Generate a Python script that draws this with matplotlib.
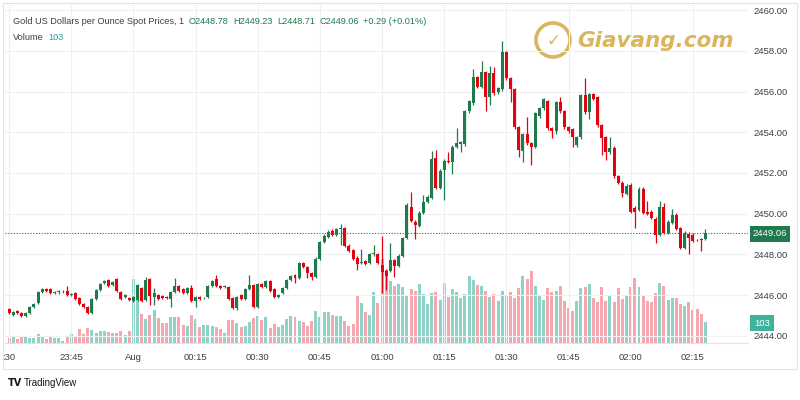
import matplotlib
matplotlib.use("Agg")
import matplotlib.pyplot as plt
from matplotlib.patches import Rectangle, Ellipse
import numpy as np

plt.rcParams['font.family'] = ['Liberation Sans', 'DejaVu Sans']

# 1-minute candles from 23:30 to 02:18
opens = [
    2445.33, 2445.03, 2445.23, 2445.13, 2444.98, 2445.13, 2445.42, 2445.62, 2446.16, 2446.31,
    2446.31, 2446.11, 2446.14, 2446.18, 2446.21, 2446.01, 2446.11, 2445.87, 2445.57, 2445.42,
    2445.13, 2445.82, 2446.26, 2446.60, 2446.75, 2446.50, 2446.80, 2446.16, 2445.92, 2445.87,
    2445.72, 2445.77, 2446.36, 2445.77, 2446.80, 2445.92, 2446.01, 2445.97, 2445.92, 2445.82,
    2446.16, 2446.46, 2446.31, 2446.11, 2446.36, 2445.72, 2445.92, 2445.85, 2445.92, 2446.46,
    2446.80, 2446.46, 2446.40, 2446.40, 2445.87, 2445.37, 2446.01, 2445.82, 2446.31, 2446.51,
    2445.42, 2446.56, 2446.41, 2446.70, 2446.31, 2445.92, 2446.11, 2446.36, 2446.75, 2447.00,
    2446.85, 2447.59, 2447.39, 2447.10, 2446.90, 2447.79, 2448.62, 2448.87, 2449.17, 2448.97,
    2449.26, 2449.31, 2448.43, 2448.23, 2447.84, 2447.59, 2447.69, 2447.59, 2448.00, 2448.03,
    2447.49, 2447.20, 2447.20, 2447.74, 2447.44, 2447.94, 2448.82, 2450.35, 2449.61, 2449.41,
    2450.05, 2450.59, 2450.79, 2452.76, 2451.28, 2452.17, 2452.61, 2452.56, 2453.30, 2453.40,
    2453.40, 2455.03, 2455.42, 2456.70, 2456.21, 2456.95, 2455.72, 2456.90, 2455.96, 2456.11,
    2457.93, 2456.65, 2456.11, 2454.24, 2453.10, 2453.89, 2453.45, 2453.30, 2454.78, 2455.17,
    2455.52, 2454.19, 2454.04, 2455.47, 2455.03, 2454.24, 2454.14, 2453.35, 2453.75, 2455.81,
    2454.98, 2455.86, 2455.72, 2454.34, 2453.75, 2453.01, 2453.25, 2451.83, 2451.53, 2450.99,
    2451.43, 2450.30, 2450.20, 2451.23, 2450.10, 2450.10, 2449.76, 2448.97, 2450.35, 2449.07,
    2449.56, 2449.96, 2449.31, 2448.33, 2449.02, 2448.97, 2448.72, 2448.77, 2448.78,
]
closes = [
    2445.13, 2445.18, 2445.13, 2444.98, 2445.13, 2445.42, 2445.57, 2446.16, 2446.31, 2446.21,
    2446.11, 2446.14, 2446.18, 2446.20, 2446.01, 2446.03, 2445.82, 2445.57, 2445.42, 2445.13,
    2445.82, 2446.26, 2446.56, 2446.70, 2446.46, 2446.65, 2446.21, 2445.82, 2446.01, 2445.77,
    2445.92, 2446.51, 2445.72, 2446.75, 2445.97, 2446.11, 2445.82, 2445.87, 2445.85, 2446.16,
    2446.46, 2446.21, 2446.11, 2446.36, 2445.72, 2445.92, 2445.82, 2445.87, 2446.46, 2446.70,
    2446.46, 2446.36, 2446.42, 2445.82, 2445.37, 2445.92, 2445.82, 2446.31, 2446.51, 2445.42,
    2446.56, 2446.41, 2446.70, 2446.21, 2445.92, 2446.01, 2446.36, 2446.75, 2446.95, 2446.85,
    2447.59, 2447.39, 2447.10, 2446.90, 2447.79, 2448.62, 2448.92, 2449.12, 2448.97, 2449.26,
    2449.28, 2448.43, 2448.18, 2447.79, 2447.54, 2447.59, 2447.54, 2448.03, 2448.05, 2447.59,
    2447.15, 2446.95, 2447.74, 2447.44, 2447.94, 2448.82, 2450.45, 2449.66, 2449.46, 2450.05,
    2450.59, 2450.84, 2452.71, 2451.28, 2452.12, 2452.61, 2452.56, 2453.30, 2453.45, 2453.50,
    2455.03, 2455.52, 2456.70, 2456.21, 2456.95, 2455.72, 2456.90, 2455.91, 2456.16, 2457.93,
    2456.65, 2456.11, 2454.24, 2453.15, 2453.89, 2453.45, 2453.30, 2454.93, 2455.17, 2455.62,
    2454.19, 2454.04, 2455.47, 2455.03, 2454.24, 2454.04, 2453.75, 2453.75, 2455.81, 2454.98,
    2455.86, 2455.62, 2454.34, 2453.70, 2453.01, 2453.25, 2451.83, 2451.53, 2451.04, 2451.38,
    2450.10, 2450.10, 2451.23, 2450.05, 2450.00, 2449.81, 2448.97, 2450.35, 2449.07, 2449.61,
    2449.96, 2449.26, 2448.33, 2449.07, 2448.82, 2448.67, 2448.70, 2448.72, 2449.06,
]
# wick lengths above / below the body, in dollars
up_wick = [
    .06, .06, .06, .06, .06, .06, .06, .06, .06, .06,
    .06, .06, .06, .06, .25, .06, .06, .06, .06, .06,
    .06, .06, .06, .06, .06, .06, .06, .06, .06, .06,
    .06, .06, .06, .16, .06, .25, .06, .06, .06, .06,
    .40, .06, .06, .06, .16, .06, .06, .06, .06, .06,
    .20, .06, .06, .06, .06, .06, .06, .06, .50, .06,
    .06, .06, .06, .06, .06, .06, .06, .06, .06, .06,
    .06, .06, .06, .06, .06, .06, .06, .06, .06, .06,
    .20, .06, .06, .06, .06, .70, .06, .06, .40, .06,
    1.43, .06, .80, .06, .06, .06, .06, .74, .06, .06,
    .35, .06, .35, .35, .06, .06, .40, .06, .74, .06,
    .06, .06, .40, .06, .54, .06, .35, .30, .06, .54,
    .06, .06, .06, .06, .06, .84, .06, .06, .06, .06,
    .06, .06, .06, .25, .06, .06, .06, .06, .06, .84,
    .06, .06, .06, .06, .06, .54, .06, .06, .06, .06,
    .06, .06, .06, .06, .54, .06, .06, .25, .20, .06,
    .25, .06, .06, .06, .06, .06, .06, .06, .17,
]
dn_wick = [
    .06, .06, .06, .06, .06, .06, .06, .06, .06, .06,
    .06, .06, .06, .06, .06, .06, .06, .06, .06, .06,
    .06, .06, .06, .06, .06, .06, .06, .06, .06, .06,
    .06, .06, .06, .06, .45, .40, .06, .06, .06, .40,
    .06, .06, .06, .06, .06, .30, .06, .06, .06, .06,
    .06, .06, .06, .06, .06, .10, .06, .06, .06, .06,
    .06, .06, .06, .06, .06, .06, .06, .06, .06, .25,
    .06, .06, .25, .15, .06, .06, .06, .06, .06, .06,
    .80, .06, .06, .06, .30, .06, .06, .06, .06, .06,
    1.03, .70, .06, .54, .06, .06, .06, .06, .70, .06,
    .06, .06, .06, .06, .06, 1.48, .06, .60, .06, .35,
    .06, .06, .06, .06, .06, .70, .40, .06, .06, .06,
    .06, .60, .06, .35, .54, .06, .90, .06, .06, .06,
    .06, .30, .15, .06, .06, .06, .45, .06, .06, .06,
    .35, .06, .06, .84, .35, .06, .06, .06, .20, .06,
    .06, .80, .06, .06, .06, .06, .40, .06, .06, .06,
    .06, .06, .06, .06, .80, .06, .06, .54, .07,
]
volumes = [
    23, 28, 20, 34, 29, 23, 26, 44, 34, 20,
    28, 23, 23, 11, 33, 44, 33, 69, 44, 74,
    64, 48, 60, 60, 55, 48, 48, 60, 41, 57,
    314, 270, 142, 118, 137, 162, 123, 98, 98, 127,
    127, 127, 88, 83, 137, 118, 78, 88, 88, 83,
    78, 69, 49, 113, 113, 98, 78, 83, 103, 123,
    132, 113, 127, 74, 93, 78, 88, 118, 132, 127,
    108, 103, 83, 108, 157, 127, 152, 152, 137, 132,
    132, 108, 83, 93, 235, 196, 152, 137, 250, 196,
    412, 358, 304, 279, 289, 274, 230, 265, 255, 289,
    240, 191, 245, 250, 211, 294, 225, 265, 250, 220,
    240, 328, 309, 284, 279, 255, 225, 240, 206, 255,
    230, 250, 221, 270, 328, 314, 353, 279, 235, 211,
    270, 250, 255, 279, 206, 172, 157, 206, 270, 274,
    289, 221, 201, 274, 206, 230, 201, 270, 216, 235,
    274, 319, 274, 230, 206, 201, 245, 294, 279, 211,
    221, 221, 191, 181, 201, 162, 167, 142, 103,
]
time_ticks = [0, 15, 30, 45, 60, 75, 90, 105, 120, 135, 150, 165]
time_labels = [":30", "23:45", "Aug", "00:15", "00:30", "00:45", "01:00",
               "01:15", "01:30", "01:45", "02:00", "02:15"]
price_ticks = [2444, 2446, 2448, 2450, 2452, 2454, 2456, 2458, 2460]

UP = "#1f7b4d"
DOWN = "#e1030f"
UP_VOL = "#8fd3c6"
DOWN_VOL = "#f4a7ae"
TXT = "#3a3e48"

o = np.array(opens)
c = np.array(closes)
x = np.arange(len(o))
hi = np.maximum(o, c) + np.array(up_wick)
lo = np.minimum(o, c) - np.array(dn_wick)
rising = c >= o

fig = plt.figure(figsize=(8, 4), dpi=100)
fig.patch.set_facecolor("white")
pos = [5 / 800, 1 - 343 / 400, 743 / 800, 338 / 400]

# volume pane underneath the candles
axv = fig.add_axes(pos, zorder=1)
axv.bar(x, volumes, width=0.72, color=np.where(rising, UP_VOL, DOWN_VOL), linewidth=0)
axv.set_ylim(0, 1656)
axv.set_xlim(-0.97, 178.3)
axv.axis("off")

ax = fig.add_axes(pos, zorder=2)
ax.patch.set_alpha(0)
ax.vlines(x, lo, hi, colors=np.where(rising, UP, DOWN), linewidth=0.9)
body = np.maximum(np.abs(c - o), 0.03)
ax.bar(x, body, bottom=np.minimum(o, c), width=0.72,
       color=np.where(rising, UP, DOWN), linewidth=0)
ax.axhline(closes[-1], color=UP, linestyle=(0, (1, 1.5)), linewidth=0.8)

ax.set_xlim(-0.97, 178.3)
ax.set_ylim(2443.65, 2460.25)
ax.set_xticks(time_ticks)
ax.set_xticklabels(time_labels)
ax.set_yticks(price_ticks)
ax.set_yticklabels([f"{p:.2f}" for p in price_ticks])
ax.yaxis.tick_right()
ax.tick_params(axis="both", length=0, labelsize=6.8, colors=TXT)
ax.tick_params(axis="x", pad=7)
ax.tick_params(axis="y", pad=4)
ax.grid(True, color="#eef0f3", linewidth=0.8)
ax.set_axisbelow(True)
for s in ["top", "left", "right"]:
    ax.spines[s].set_visible(False)
ax.spines["bottom"].set_color("#e0e3eb")

# outer frame
fig.patches.append(Rectangle((3 / 800, 1 - 369 / 400), 794 / 800, 366 / 400,
                             transform=fig.transFigure, fill=False,
                             edgecolor="#e0e3eb", linewidth=0.8))

# legend, pieces laid out one after another
renderer = fig.canvas.get_renderer()


def row(pieces, px, py, gap=4.5):
    for t, col in pieces:
        txt = fig.text(px / 800, 1 - py / 400, t, fontsize=6.6, color=col, va="center")
        px = txt.get_window_extent(renderer).x1 + gap


row([("Gold US Dollars per Ounce Spot Prices, 1", TXT), ("O2448.78", UP), ("H2449.23", UP),
     ("L2448.71", UP), ("C2449.06", UP), ("+0.29 (+0.01%)", UP)], 13, 21)
row([("Volume", TXT), ("103", "#26a69a")], 13, 37)

# last value tags
fig.text(770 / 800, 1 - 234 / 400, "2449.06", fontsize=6.8, color="white", ha="center", va="center",
         bbox=dict(boxstyle="square,pad=0.35", facecolor=UP, edgecolor="none"))
fig.text(762 / 800, 1 - 323 / 400, "103", fontsize=6.8, color="white", ha="center", va="center",
         bbox=dict(boxstyle="square,pad=0.4", facecolor="#3fb29b", edgecolor="none"))

# watermark
GOLD = "#d6ad4c"
fig.patches.append(Ellipse((553 / 800, 1 - 40 / 400), 34 / 800, 34 / 400,
                           transform=fig.transFigure, fill=False,
                           edgecolor=GOLD, linewidth=2.6, alpha=0.9))
fig.text(553 / 800, 1 - 41 / 400, "✓", fontsize=12, color=GOLD, ha="center", va="center",
         family="DejaVu Sans", fontweight="bold", alpha=0.9)
fig.text(577 / 800, 1 - 41 / 400, "Giavang.com", fontsize=15.5, color=GOLD, va="center",
         family="DejaVu Sans", fontweight="bold", style="italic", alpha=0.9)

# footer
fig.text(8 / 800, 1 - 383 / 400, "TV", fontsize=7, color="#131722", va="center",
         family="DejaVu Sans", fontweight="bold")
fig.text(24 / 800, 1 - 383 / 400, "TradingView", fontsize=7, color="#131722", va="center")

fig.savefig("out.png", dpi=100)
